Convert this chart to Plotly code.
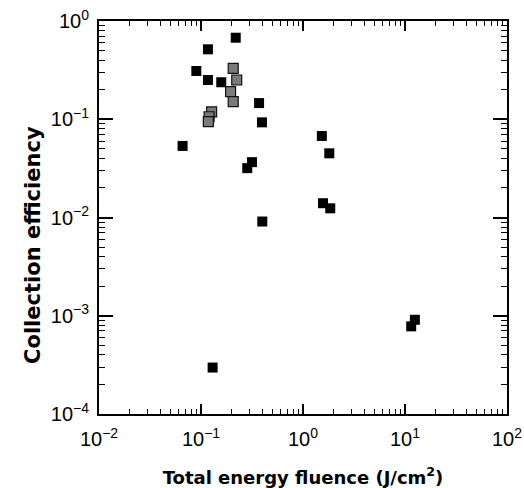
import plotly.graph_objects as go

# Solid black squares
solid_x = [0.219, 0.117, 0.090, 0.117, 0.158, 0.371, 0.396, 0.066, 0.284, 0.316,
           0.130, 0.399, 1.57, 1.85, 1.81, 1.53, 11.5, 12.5]
solid_y = [0.676, 0.515, 0.31, 0.251, 0.238, 0.146, 0.093, 0.0535, 0.0318, 0.0366,
           0.000297, 0.0091, 0.01397, 0.0124, 0.045, 0.0676, 0.00078, 0.00091]

# Textured (shaded) squares
shaded_x = [0.207, 0.224, 0.195, 0.207, 0.127, 0.120, 0.118]
shaded_y = [0.330, 0.251, 0.191, 0.151, 0.119, 0.106, 0.0946]

x_tickvals = [1e-2, 1e-1, 1e0, 1e1, 1e2]
x_ticktext = ["10<sup>−2</sup>", "10<sup>−1</sup>", "10<sup>0</sup>", "10<sup>1</sup>", "10<sup>2</sup>"]
y_tickvals = [1e-4, 1e-3, 1e-2, 1e-1, 1e0]
y_ticktext = ["10<sup>−4</sup>", "10<sup>−3</sup>", "10<sup>−2</sup>", "10<sup>−1</sup>", "10<sup>0</sup>"]

x_title = "Total energy fluence (J/cm<sup>2</sup>)"
y_title = "Collection efficiency"


def minor_vals(lo, hi):
    vals = []
    for e in range(lo, hi):
        for m in range(2, 10):
            vals.append(m * 10.0 ** e)
    return vals


fig = go.Figure()
fig.add_trace(go.Scatter(
    x=shaded_x, y=shaded_y, mode="markers",
    marker=dict(symbol="square", size=10, color="#7a7a7a",
                line=dict(color="#111111", width=1.2)),
    showlegend=False))
fig.add_trace(go.Scatter(
    x=solid_x, y=solid_y, mode="markers",
    marker=dict(symbol="square", size=10, color="black",
                line=dict(color="black", width=0)),
    showlegend=False))

tick_font = dict(family="Liberation Sans, Arial, sans-serif", color="black", size=20)
xtitle_font = dict(family="DejaVu Sans, sans-serif", color="black", size=18)
ytitle_font = dict(family="DejaVu Sans, sans-serif", color="black", size=21)

fig.update_xaxes(
    type="log", range=[-2, 2], tickmode="array",
    tickvals=x_tickvals, ticktext=x_ticktext,
    showgrid=False, zeroline=False, automargin=False,
    showline=True, linecolor="black", linewidth=2, mirror="ticks",
    ticks="inside", ticklen=10, tickwidth=1.5, tickcolor="black",
    minor=dict(tickmode="array", tickvals=minor_vals(-2, 2), ticks="inside",
               ticklen=5, tickwidth=1, tickcolor="black", showgrid=False),
    tickfont=tick_font, ticklabelstandoff=6,
    title=dict(text="<b>" + x_title + "</b>", font=xtitle_font, standoff=24),
)
fig.update_yaxes(
    type="log", range=[-4, 0], tickmode="array",
    tickvals=y_tickvals, ticktext=y_ticktext,
    showgrid=False, zeroline=False, automargin=False,
    showline=True, linecolor="black", linewidth=2, mirror="ticks",
    ticks="inside", ticklen=14, tickwidth=1.5, tickcolor="black",
    minor=dict(tickmode="array", tickvals=minor_vals(-4, 0), ticks="inside",
               ticklen=6, tickwidth=1, tickcolor="black", showgrid=False),
    tickfont=tick_font, ticklabelstandoff=4,
)

fig.add_annotation(
    text="<b>" + y_title + "</b>", font=ytitle_font,
    xref="paper", yref="paper", x=-0.162, y=0.43,
    xanchor="center", yanchor="middle", textangle=-90, showarrow=False,
)

fig.update_layout(
    width=524, height=488,
    margin=dict(l=99, r=17, t=21, b=74),
    plot_bgcolor="white", paper_bgcolor="white",
)

fig.write_html("out.html", config={"displayModeBar": False},
               post_script="document.body.style.margin='0';document.body.style.overflow='hidden';")
